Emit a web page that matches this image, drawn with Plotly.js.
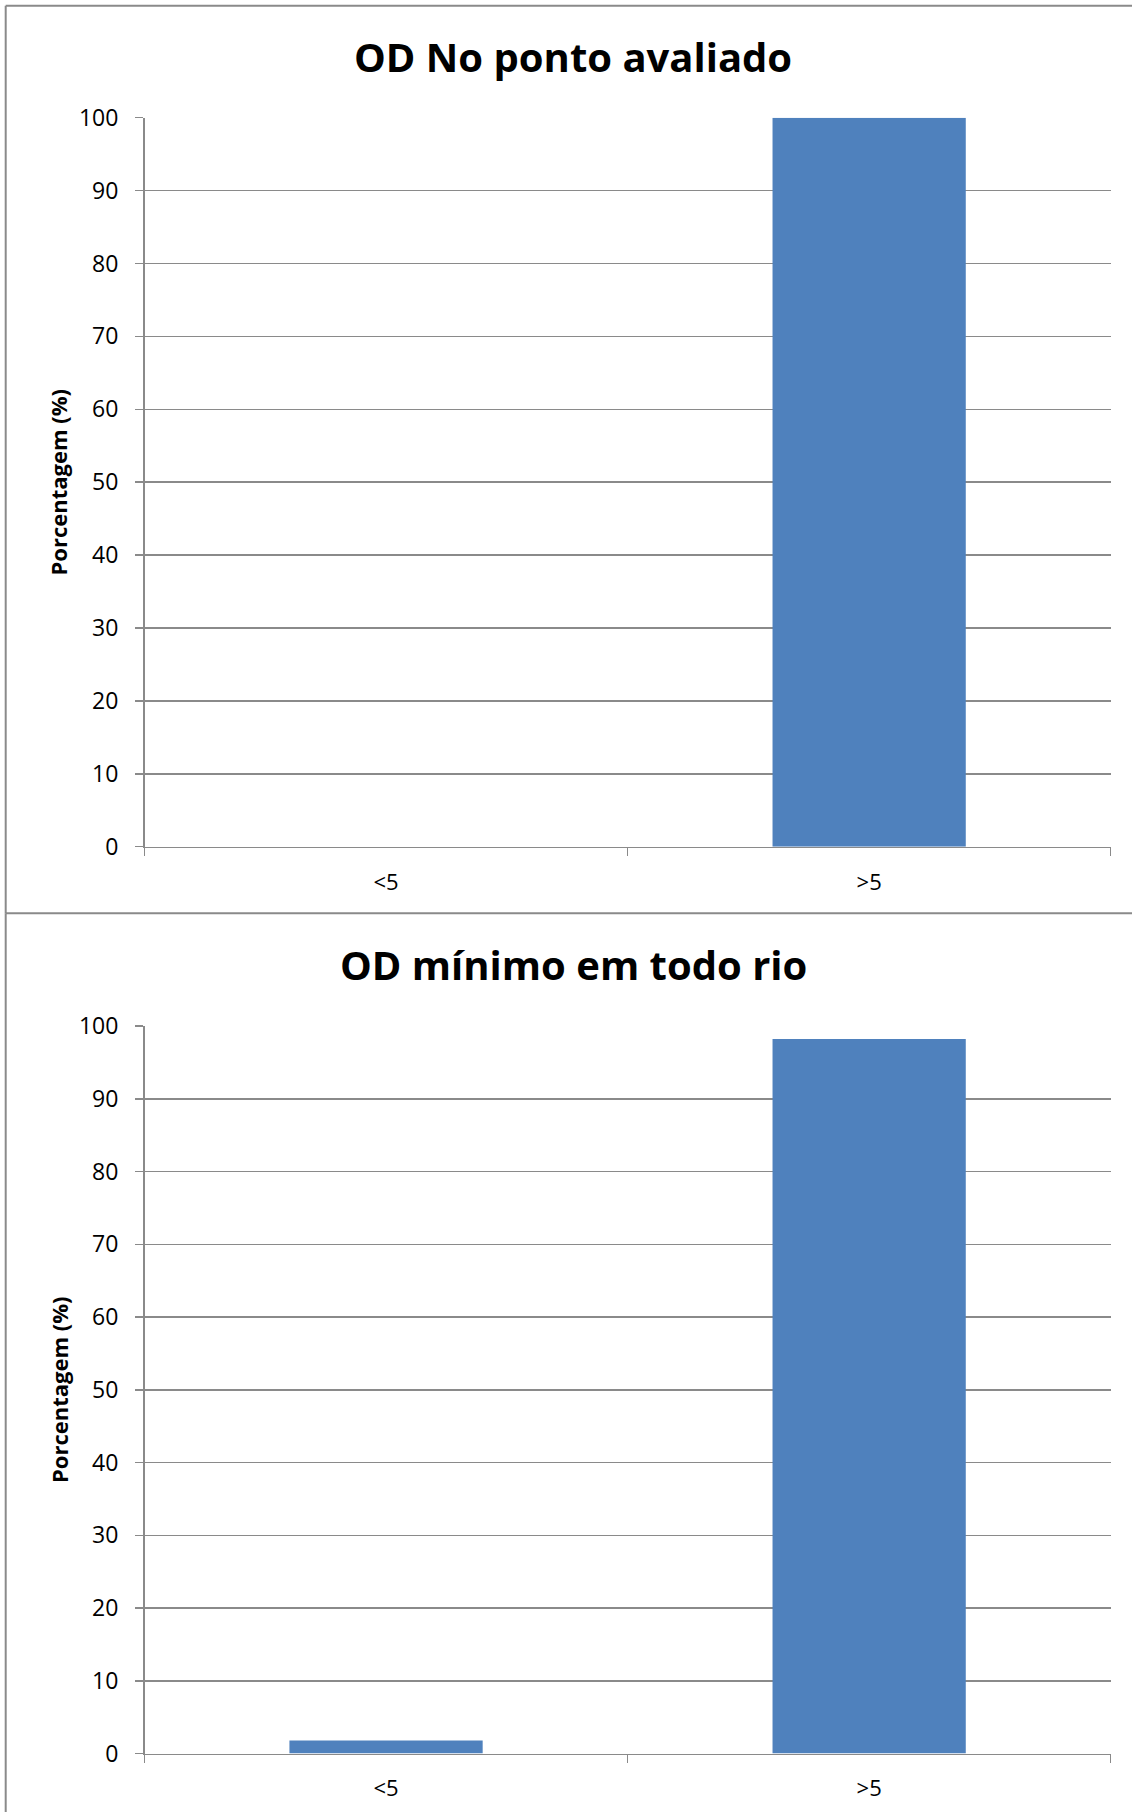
<!DOCTYPE html>
<html>
<head>
<meta charset="utf-8">
<script src="https://cdn.plot.ly/plotly-3.0.1.min.js"></script>
<style>
  html, body { margin: 0; padding: 0; background: #ffffff; }
  #chart { width: 1132px; height: 1812px; }
</style>
</head>
<body>
<div id="chart"></div>
<script>
// Dissolved oxygen (OD) classes and share of results in each (%)
const categories = ['<5', '>5'];
const odPontoAvaliado = [0, 100];
const odMinimoRio = [1.8, 98.2];
const yTickValues = [0, 10, 20, 30, 40, 50, 60, 70, 80, 90, 100];

const chartTitles = ['OD No ponto avaliado', 'OD mínimo em todo rio'];
const yAxisLabel = 'Porcentagem (%)';

const W = 1132, H = 1812;
const px = v => v / W;           // pixel -> paper x
const py = v => 1 - v / H;       // pixel -> paper y

const FONT = '"Open Sans", "Noto Sans", sans-serif';
const GRID = '#8a8a8a';
const BAR = '#4f81bd';

const xDomain = [px(144.5), px(1110.7)];

function xAxis(anchor) {
  return {
    domain: xDomain,
    anchor: anchor,
    type: 'category',
    categoryorder: 'array',
    categoryarray: categories,
    tickson: 'boundaries',
    ticks: 'outside',
    ticklen: 8,
    tickwidth: 1.5,
    tickcolor: GRID,
    ticklabelstandoff: 15,
    showline: true,
    linecolor: GRID,
    linewidth: 1.5,
    showgrid: false,
    zeroline: false,
    tickfont: { family: FONT, size: 22, color: '#000000' },
    fixedrange: true
  };
}

function yAxis(anchor, top, bottom) {
  return {
    domain: [py(bottom), py(top)],
    anchor: anchor,
    range: [0, 100],
    tickmode: 'array',
    tickvals: yTickValues,
    ticktext: yTickValues.map(String),
    ticks: 'outside',
    ticklen: 8,
    tickwidth: 1.5,
    tickcolor: GRID,
    ticklabelstandoff: 12,
    showline: true,
    linecolor: GRID,
    linewidth: 1.5,
    showgrid: true,
    gridcolor: GRID,
    gridwidth: 1.5,
    zeroline: false,
    tickfont: { family: FONT, size: 23, color: '#000000' },
    fixedrange: true
  };
}

const traces = [
  { type: 'bar', x: categories, y: odPontoAvaliado, xaxis: 'x', yaxis: 'y',
    marker: { color: BAR }, hoverinfo: 'x+y' },
  { type: 'bar', x: categories, y: odMinimoRio, xaxis: 'x2', yaxis: 'y2',
    marker: { color: BAR }, hoverinfo: 'x+y' }
];

// chart frame lines
const frame = { color: GRID, width: 2 };
const shapes = [
  { type: 'line', xref: 'paper', yref: 'paper', x0: px(5.7), x1: px(5.7), y0: py(5.7), y1: py(913.3), line: frame },
  { type: 'line', xref: 'paper', yref: 'paper', x0: px(5.7), x1: 1, y0: py(5.7), y1: py(5.7), line: frame },
  { type: 'line', xref: 'paper', yref: 'paper', x0: px(5.7), x1: 1, y0: py(913.3), y1: py(913.3), line: frame },
  { type: 'line', xref: 'paper', yref: 'paper', x0: px(5.7), x1: px(5.7), y0: py(913.3), y1: 0, line: frame }
];

const titleFont = { family: FONT, size: 40, color: '#000000', weight: 'bold' };
const axisTitleFont = { family: FONT, size: 22, color: '#000000', weight: 'bold' };

const annotations = [
  { xref: 'paper', yref: 'paper', x: px(573), y: py(56.5), text: '<b>' + chartTitles[0] + '</b>',
    showarrow: false, xanchor: 'center', yanchor: 'middle', font: titleFont },
  { xref: 'paper', yref: 'paper', x: px(573), y: py(964.5), text: '<b>' + chartTitles[1] + '</b>',
    showarrow: false, xanchor: 'center', yanchor: 'middle', font: titleFont },
  { xref: 'paper', yref: 'paper', x: px(58.3), y: py(482.2), text: '<b>' + yAxisLabel + '</b>',
    textangle: -90, showarrow: false, xanchor: 'center', yanchor: 'middle', font: axisTitleFont },
  { xref: 'paper', yref: 'paper', x: px(58.3), y: py(1389.7), text: '<b>' + yAxisLabel + '</b>',
    textangle: -90, showarrow: false, xanchor: 'center', yanchor: 'middle', font: axisTitleFont }
];

const layout = {
  width: W,
  height: H,
  margin: { l: 0, r: 0, t: 0, b: 0, pad: 0 },
  paper_bgcolor: '#ffffff',
  plot_bgcolor: '#ffffff',
  showlegend: false,
  bargap: 0.6,
  xaxis: xAxis('y'),
  yaxis: yAxis('x', 117.7, 846.7),
  xaxis2: xAxis('y2'),
  yaxis2: yAxis('x2', 1026, 1753.5),
  shapes: shapes,
  annotations: annotations,
  font: { family: FONT, color: '#000000' }
};

Plotly.newPlot('chart', traces, layout, { displayModeBar: false, staticPlot: true });
</script>
</body>
</html>
